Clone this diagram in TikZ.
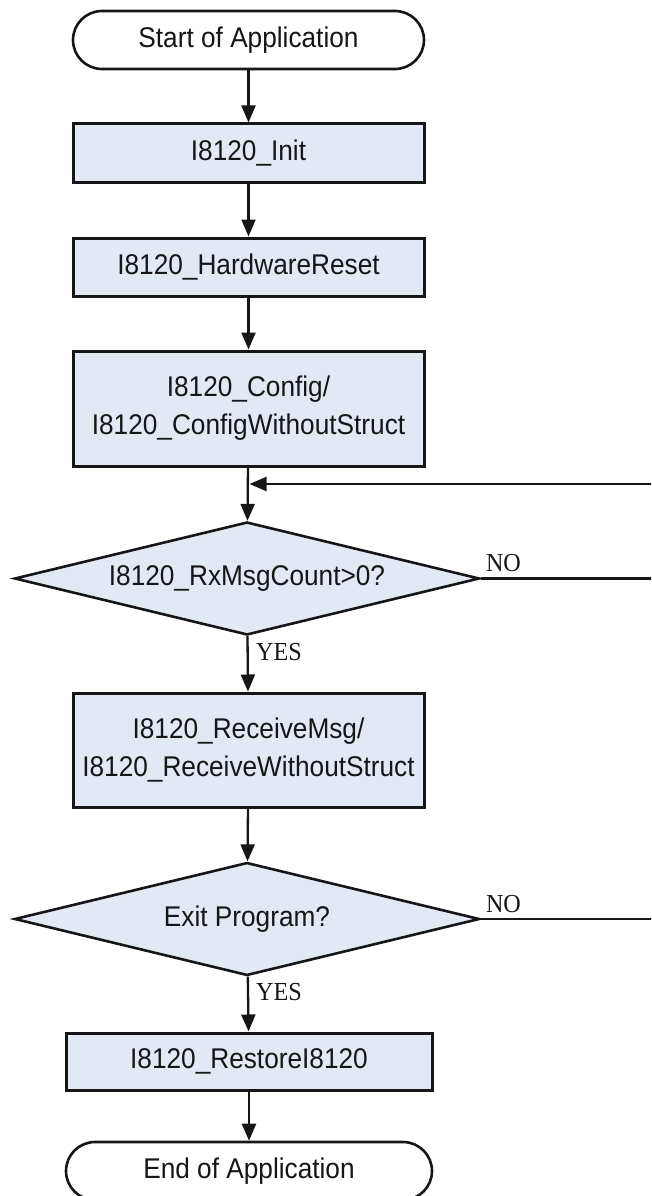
\documentclass[tikz,border=0pt]{standalone}
\usepackage{fontspec}
\setmainfont{Liberation Sans}[FakeStretch=0.92]
\newfontfamily\labelfont{Liberation Serif}[FakeStretch=0.93]
\usetikzlibrary{arrows.meta,shapes.geometric}
\definecolor{boxfill}{RGB}{226,233,245}
\definecolor{inkc}{RGB}{22,22,22}

\begin{document}
\begin{tikzpicture}[x=1pt,y=-1pt,
  every node/.style={font=\fontsize{28.5}{38}\selectfont, text=inkc},
  procbox/.style={draw=inkc, line width=3pt, fill=boxfill, rectangle,
    inner sep=0pt, minimum width=351pt, align=center},
  termbox/.style={draw=inkc, line width=2.6pt, fill=white, rectangle,
    rounded corners=29pt, inner sep=0pt, minimum width=351pt, minimum height=58pt},
  decbox/.style={draw=inkc, line width=2.6pt, fill=boxfill, diamond, aspect=4.12,
    inner sep=0pt, minimum width=465pt, minimum height=113pt},
  flow/.style={draw=inkc, line width=2.3pt, -{Triangle[width=14pt,length=17pt]}},
  wire/.style={draw=inkc, line width=2.3pt},
  branch/.style={font=\labelfont\fontsize{26}{28}\selectfont, inner sep=0pt}
]
\useasboundingbox (0,0) rectangle (651,1196);
\clip (0,0) rectangle (651,1196);

% main column
\node[termbox] (start) at (248.5,40) {Start of Application};
\node[procbox, minimum height=58pt] (init) at (248.5,153) {I8120\_Init};
\node[procbox, minimum height=58pt] (hwreset) at (248.5,267) {I8120\_HardwareReset};
\node[procbox, minimum height=115pt] (config) at (248.5,408.5)
  {I8120\_Config/\\I8120\_ConfigWithoutStruct};
\coordinate (join) at (248.5,484);
\node[decbox] (rxcount) at (247,578.5) {I8120\_RxMsgCount>0?};
\node[procbox, minimum height=114pt] (receive) at (248.5,750)
  {I8120\_ReceiveMsg/\\I8120\_ReceiveWithoutStruct};
\node[decbox] (exitq) at (247,919) {Exit Program?};
\node[procbox, minimum width=366pt, minimum height=57pt] (restore) at (249,1061.5)
  {I8120\_RestoreI8120};
\node[termbox, minimum width=366pt] (finish) at (249,1171) {End of Application};

% return rail on the right
\coordinate (rail) at (672,0);

% forward flow
\draw[flow] (start) -- (init);
\draw[flow] (init) -- (hwreset);
\draw[flow] (hwreset) -- (config);
\draw[flow] (config) -- (rxcount);
\draw[flow] (rxcount) -- (receive);
\draw[flow] (receive) -- (exitq);
\draw[flow] (exitq) -- (restore);
\draw[flow] (restore) -- (finish);

% NO branches back to the loop entry
\draw[wire] (rxcount.east) -- (rxcount.east -| rail) -- (join -| rail);
\draw[wire] (exitq.east) -- (exitq.east -| rail) -- (join -| rail);
\draw[flow, shorten >=1pt] (join -| rail) -- (join);

% branch labels
\node[branch, anchor=base west, xshift=5pt, yshift=7pt] (no1) at (rxcount.east) {NO};
\node[branch, anchor=base west, xshift=9pt, yshift=-24pt] (yes1) at (rxcount.south) {YES};
\node[branch, anchor=base west, xshift=5pt, yshift=7pt] (no2) at (exitq.east) {NO};
\node[branch, anchor=base west, xshift=9pt, yshift=-24pt] (yes2) at (exitq.south) {YES};
\end{tikzpicture}
\end{document}
